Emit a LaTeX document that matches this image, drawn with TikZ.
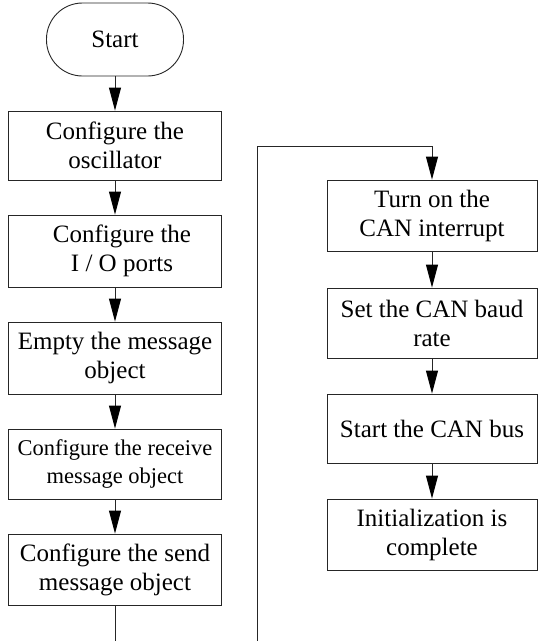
\documentclass[tikz,border=0pt]{standalone}
\usepackage{fontspec}
\setmainfont{Liberation Serif}
\usetikzlibrary{arrows.meta}
\begin{document}
\begin{tikzpicture}[x=1pt,y=-1pt,
  box/.style={draw=black!85,line width=0.9pt,align=center,inner sep=2pt,
    font=\fontsize{25}{29}\selectfont},
  lbox/.style={box,minimum width=213pt},
  rbox/.style={box,minimum width=210pt},
  term/.style={box,rounded corners=36pt,minimum width=137pt,minimum height=73pt},
  conn/.style={draw=black!85,line width=0.9pt},
  arr/.style={conn,-{Triangle[length=23pt,width=12pt,fill=black,color=black]}}]
\useasboundingbox (0,0) rectangle (538,641);
\node[term] (start) at (115,39.5) {Start};
\node[lbox,minimum height=69pt] (b1) at (115,145.5) {Configure the\\oscillator};
\node[lbox,minimum height=72pt] (b2) at (115,251) {\hspace*{14pt}Configure the\\\hspace*{14pt}I / O ports};
\node[lbox,minimum height=72pt] (b3) at (115,358) {Empty the message\\object};
\node[lbox,minimum height=70pt,font=\fontsize{22.5}{28}\selectfont] (b4) at (115,464) {Configure the receive\\message object};
\node[lbox,minimum height=71pt] (b5) at (115,569.5) {Configure the send\\message object};
\node[rbox,minimum height=71pt] (r1) at (432,215.5) {Turn on the\\CAN interrupt};
\node[rbox,minimum height=70pt] (r2) at (432,323) {Set the CAN baud\\rate};
\node[rbox,minimum height=69pt] (r3) at (432,428.5) {Start the CAN bus};
\node[rbox,minimum height=71pt] (r4) at (432,534.5) {Initialization is\\complete};
\coordinate (c1) at (115,641);
\coordinate (c2) at (257,641);
\coordinate (c3) at (257,146);
\coordinate (c4) at (432,146);
\draw[arr] (start) -- (b1);
\draw[arr] (b1) -- (b2);
\draw[arr] (b2) -- (b3);
\draw[arr] (b3) -- (b4);
\draw[arr] (b4) -- (b5);
\draw[conn] (b5.south) -- (c1) -- (c2) -- (c3) -- (c4);
\draw[arr] (c4) -- (r1);
\draw[arr] (r1) -- (r2);
\draw[arr] (r2) -- (r3);
\draw[arr] (r3) -- (r4);
\end{tikzpicture}
\end{document}
